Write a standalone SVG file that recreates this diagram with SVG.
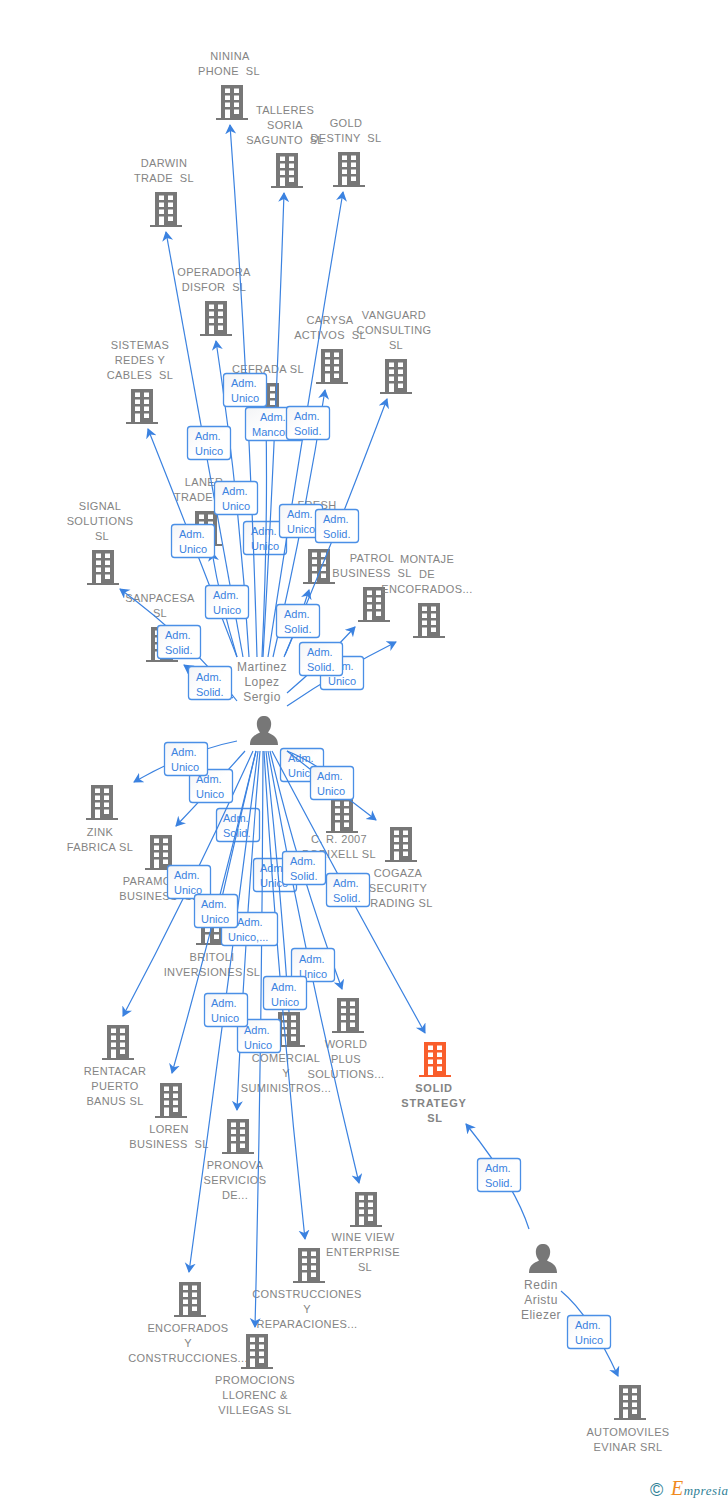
<svg xmlns="http://www.w3.org/2000/svg" width="728" height="1500" viewBox="0 0 728 1500">
<style>
.n{font:11px "Liberation Sans",Arial,sans-serif;fill:#848484;text-anchor:middle;white-space:pre;letter-spacing:.35px}
.p{font:12px "Liberation Sans",Arial,sans-serif;fill:#848484;text-anchor:middle;letter-spacing:.5px}
.b{font-weight:bold;letter-spacing:.8px}
.l{fill:none;stroke:#3b82e0;stroke-width:1.2}
.a{fill:url(#g);stroke:#4a8fe6;stroke-width:1.3}
.t{font:11px "Liberation Sans",Arial,sans-serif;fill:#3b82e0}
</style>
<defs>
<linearGradient id="g" x1="0" y1="0" x2="1" y2="1"><stop offset="0" stop-color="#f3f4f6"/><stop offset="0.5" stop-color="#fff"/></linearGradient>
<marker id="m" markerWidth="12" markerHeight="12" refX="9" refY="5.500" orient="auto" markerUnits="userSpaceOnUse"><path d="M0 0L10 5.500L0 11L3 5.500Z" fill="#3b82e0"/></marker>
<g id="bd"><path fill-rule="evenodd" d="M-11 0H11V33H16V35H-16V33H-11ZM-7 3.500V8H-2V3.500ZM2 3.500V8H7V3.500ZM-7 10.500V15H-2V10.500ZM2 10.500V15H7V10.500ZM-7 17.500V22H-2V17.500ZM2 17.500V22H7V17.500ZM-7 24.500V33H-2V24.500ZM2 24.500V29H7V24.500Z"/></g>
<g id="pr"><path d="M-14 29C-14 21 -9 19 -4 16.500C-7 13 -7.500 9 -7 6C-6 1 -3 0 0 0C3 0 6 1 7 6C7.500 9 7 13 4 16.500C9 19 14 21 14 29Z"/></g>
</defs>
<g id="nodes" fill="#777">
<g id="n1"><use href="#bd" x="232" y="85"/><text class="n" x="230" y="60">NININA</text><text class="n" x="229" y="75">PHONE  SL</text></g>
<g id="n2"><use href="#bd" x="287" y="153"/><text class="n" x="285" y="114">TALLERES</text><text class="n" x="285" y="129">SORIA</text><text class="n" x="285" y="144">SAGUNTO  SL</text></g>
<g id="n3"><use href="#bd" x="349" y="152"/><text class="n" x="346" y="127">GOLD</text><text class="n" x="346" y="142">DESTINY  SL</text></g>
<g id="n4"><use href="#bd" x="166" y="192"/><text class="n" x="164" y="167">DARWIN</text><text class="n" x="164" y="182">TRADE  SL</text></g>
<g id="n5"><use href="#bd" x="216" y="301"/><text class="n" x="214" y="276">OPERADORA</text><text class="n" x="214" y="291">DISFOR  SL</text></g>
<g id="n6"><use href="#bd" x="332" y="349"/><text class="n" x="330" y="324">CARYSA</text><text class="n" x="330" y="339">ACTIVOS  SL</text></g>
<g id="n7"><use href="#bd" x="396" y="359"/><text class="n" x="394" y="319">VANGUARD</text><text class="n" x="394" y="334">CONSULTING</text><text class="n" x="396" y="349">SL</text></g>
<g id="n8"><use href="#bd" x="268" y="383"/><text class="n" x="268" y="373">CEFRADA SL</text></g>
<g id="n9"><use href="#bd" x="142" y="389"/><text class="n" x="140" y="349">SISTEMAS</text><text class="n" x="140" y="364">REDES Y</text><text class="n" x="140" y="379">CABLES  SL</text></g>
<g id="n10"><use href="#bd" x="206" y="511"/><text class="n" x="204" y="486">LANER</text><text class="n" x="204" y="501">TRADE  SL</text></g>
<g id="n11"><use href="#bd" x="103" y="550"/><text class="n" x="100" y="510">SIGNAL</text><text class="n" x="100" y="525">SOLUTIONS</text><text class="n" x="102" y="540">SL</text></g>
<g id="n12"><use href="#bd" x="319" y="549"/><text class="n" x="317" y="509">FRESH</text></g>
<g id="n13"><use href="#bd" x="374" y="587"/><text class="n" x="372" y="562">PATROL</text><text class="n" x="372" y="577">BUSINESS  SL</text></g>
<g id="n14"><use href="#bd" x="429" y="603"/><text class="n" x="427" y="563">MONTAJE</text><text class="n" x="427" y="578">DE</text><text class="n" x="427" y="593">ENCOFRADOS...</text></g>
<g id="n15"><use href="#bd" x="162" y="627"/><text class="n" x="160" y="602">SANPACESA</text><text class="n" x="160" y="617">SL</text></g>
<g id="n16"><use href="#pr" x="264" y="716"/><text class="p" x="262" y="671">Martinez</text><text class="p" x="262" y="686">Lopez</text><text class="p" x="262" y="701">Sergio</text></g>
<g id="n17"><use href="#bd" x="102" y="785"/><text class="n" x="100" y="836">ZINK</text><text class="n" x="100" y="851">FABRICA SL</text></g>
<g id="n18"><use href="#bd" x="161" y="835"/><text class="n" x="159" y="885">PARAMOUNT</text><text class="n" x="159" y="900">BUSINESS  SL</text></g>
<g id="n19"><use href="#bd" x="342" y="798"/><text class="n" x="339" y="843">C. R. 2007</text><text class="n" x="339" y="858">PORIXELL SL</text></g>
<g id="n20"><use href="#bd" x="401" y="827"/><text class="n" x="398" y="877">COGAZA</text><text class="n" x="398" y="892">SECURITY</text><text class="n" x="398" y="907">TRADING SL</text></g>
<g id="n21"><use href="#bd" x="212" y="910"/><text class="n" x="212" y="961">BRITOLI</text><text class="n" x="212" y="976">INVERSIONES SL</text></g>
<g id="n22"><use href="#bd" x="118" y="1025"/><text class="n" x="115" y="1075">RENTACAR</text><text class="n" x="115" y="1090">PUERTO</text><text class="n" x="115" y="1105">BANUS SL</text></g>
<g id="n23"><use href="#bd" x="171" y="1083"/><text class="n" x="169" y="1133">LOREN</text><text class="n" x="169" y="1148">BUSINESS  SL</text></g>
<g id="n24"><use href="#bd" x="238" y="1119"/><text class="n" x="235" y="1169">PRONOVA</text><text class="n" x="235" y="1184">SERVICIOS</text><text class="n" x="235" y="1199">DE...</text></g>
<g id="n25"><use href="#bd" x="289" y="1012"/><text class="n" x="286" y="1062">COMERCIAL</text><text class="n" x="286" y="1077">Y</text><text class="n" x="286" y="1092">SUMINISTROS...</text></g>
<g id="n26"><use href="#bd" x="348" y="998"/><text class="n" x="346" y="1048">WORLD</text><text class="n" x="346" y="1063">PLUS</text><text class="n" x="346" y="1078">SOLUTIONS...</text></g>
<g id="n27" fill="#f95e2c"><use href="#bd" x="435" y="1042"/><text class="n b" x="434" y="1092">SOLID</text><text class="n b" x="434" y="1107">STRATEGY</text><text class="n b" x="435" y="1122">SL</text></g>
<g id="n28"><use href="#bd" x="366" y="1192"/><text class="n" x="363" y="1241">WINE VIEW</text><text class="n" x="363" y="1256">ENTERPRISE</text><text class="n" x="365" y="1271">SL</text></g>
<g id="n29"><use href="#bd" x="309" y="1248"/><text class="n" x="307" y="1298">CONSTRUCCIONES</text><text class="n" x="307" y="1313">Y</text><text class="n" x="307" y="1328">REPARACIONES...</text></g>
<g id="n30"><use href="#bd" x="190" y="1282"/><text class="n" x="188" y="1332">ENCOFRADOS</text><text class="n" x="188" y="1347">Y</text><text class="n" x="188" y="1362">CONSTRUCCIONES...</text></g>
<g id="n31"><use href="#bd" x="257" y="1334"/><text class="n" x="255" y="1384">PROMOCIONS</text><text class="n" x="255" y="1399">LLORENC &amp;</text><text class="n" x="255" y="1414">VILLEGAS SL</text></g>
<g id="n32"><use href="#pr" x="543" y="1244"/><text class="p" x="541" y="1289">Redin</text><text class="p" x="541" y="1304">Aristu</text><text class="p" x="541" y="1319">Eliezer</text></g>
<g id="n33"><use href="#bd" x="630" y="1385"/><text class="n" x="628" y="1436">AUTOMOVILES</text><text class="n" x="628" y="1451">EVINAR SRL</text></g>
</g>
<g id="connectors">
<g id="labels-under">
<rect class="a" x="243.500" y="521.500" width="43" height="33" rx="3"/><text class="t" x="251" y="535">Adm.</text><text class="t" x="251" y="550">Unico</text>
<rect class="a" x="280.500" y="748.500" width="43" height="33" rx="3"/><text class="t" x="288" y="762">Adm.</text><text class="t" x="288" y="777">Unico</text>
<rect class="a" x="216.500" y="808.500" width="43" height="33" rx="3"/><text class="t" x="223" y="822">Adm.</text><text class="t" x="223" y="837">Solid.</text>
<rect class="a" x="253.500" y="858.500" width="43" height="33" rx="3"/><text class="t" x="260" y="872">Adm.</text><text class="t" x="260" y="887">Unico</text>
</g>
<path class="l" marker-end="url(#m)" d="M237 657Q220 600 212 552"/>
<path class="l" marker-end="url(#m)" d="M237 657Q200 560 148 429"/>
<path class="l" marker-end="url(#m)" d="M243 657Q210 470 166 232"/>
<path class="l" marker-end="url(#m)" d="M249 657Q240 500 216 341"/>
<path class="l" marker-end="url(#m)" d="M257 657Q250 400 230 125"/>
<path class="l" d="M262 657Q268 530 266 420"/>
<path class="l" marker-end="url(#m)" d="M263 657Q276 430 284 193"/>
<path class="l" marker-end="url(#m)" d="M268 657Q300 450 343 192"/>
<path class="l" marker-end="url(#m)" d="M273 657Q305 520 325 390"/>
<path class="l" marker-end="url(#m)" d="M285 655Q330 550 387 399"/>
<path class="l" marker-end="url(#m)" d="M284 657Q298 625 309 590"/>
<path class="l" marker-end="url(#m)" d="M287 693Q320 665 355 627"/>
<path class="l" marker-end="url(#m)" d="M287 706Q340 670 396 642"/>
<path class="l" marker-end="url(#m)" d="M233 698Q205 680 184 665"/>
<path class="l" marker-end="url(#m)" d="M237 701Q190 640 120 589"/>
<path class="l" marker-end="url(#m)" d="M237 741Q190 750 134 782"/>
<path class="l" marker-end="url(#m)" d="M245 751Q215 785 176 826"/>
<path class="l" marker-end="url(#m)" d="M253 751Q190 890 123 1016"/>
<path class="l" marker-end="url(#m)" d="M256 751Q215 920 172 1073"/>
<path class="l" d="M256 751Q235 840 218 915"/>
<path class="l" marker-end="url(#m)" d="M258 751Q225 1010 189 1272"/>
<path class="l" marker-end="url(#m)" d="M260 751Q245 930 237 1110"/>
<path class="l" marker-end="url(#m)" d="M263 751Q262 1040 255 1327"/>
<path class="l" marker-end="url(#m)" d="M264 751Q278 990 305 1239"/>
<path class="l" d="M266 751Q280 880 289 1012"/>
<path class="l" marker-end="url(#m)" d="M268 751Q305 960 359 1183"/>
<path class="l" marker-end="url(#m)" d="M270 751Q295 860 342 989"/>
<path class="l" marker-end="url(#m)" d="M272 751Q340 880 425 1033"/>
<path class="l" d="M287 751Q305 758 325 772"/>
<path class="l" marker-end="url(#m)" d="M287 751Q330 785 376 820"/>
<path class="l" marker-end="url(#m)" d="M529 1229Q515 1185 466 1124"/>
<path class="l" marker-end="url(#m)" d="M561 1291Q590 1315 618 1376"/>
<g id="labels">
<rect class="a" x="223.500" y="373.500" width="43" height="33" rx="3"/><text class="t" x="231" y="387">Adm.</text><text class="t" x="231" y="402">Unico</text>
<rect class="a" x="245.500" y="407.500" width="58" height="33" rx="3"/><text class="t" x="260" y="421">Adm.</text><text class="t" x="252" y="436">Mancom.</text>
<rect class="a" x="286.500" y="406.500" width="43" height="33" rx="3"/><text class="t" x="294" y="420">Adm.</text><text class="t" x="294" y="435">Solid.</text>
<rect class="a" x="187.500" y="426.500" width="43" height="33" rx="3"/><text class="t" x="195" y="440">Adm.</text><text class="t" x="195" y="455">Unico</text>
<rect class="a" x="214.500" y="481.500" width="43" height="33" rx="3"/><text class="t" x="222" y="495">Adm.</text><text class="t" x="222" y="510">Unico</text>
<rect class="a" x="279.500" y="504.500" width="43" height="33" rx="3"/><text class="t" x="287" y="518">Adm.</text><text class="t" x="287" y="533">Unico</text>
<rect class="a" x="315.500" y="509.500" width="43" height="33" rx="3"/><text class="t" x="323" y="523">Adm.</text><text class="t" x="323" y="538">Solid.</text>
<rect class="a" x="171.500" y="524.500" width="43" height="33" rx="3"/><text class="t" x="179" y="538">Adm.</text><text class="t" x="179" y="553">Unico</text>
<rect class="a" x="205.500" y="585.500" width="43" height="33" rx="3"/><text class="t" x="213" y="599">Adm.</text><text class="t" x="213" y="614">Unico</text>
<rect class="a" x="276.500" y="604.500" width="43" height="33" rx="3"/><text class="t" x="284" y="618">Adm.</text><text class="t" x="284" y="633">Solid.</text>
<rect class="a" x="157.500" y="625.500" width="43" height="33" rx="3"/><text class="t" x="165" y="639">Adm.</text><text class="t" x="165" y="654">Solid.</text>
<rect class="a" x="188.500" y="666.500" width="43" height="33" rx="3"/><text class="t" x="196" y="681">Adm.</text><text class="t" x="196" y="696">Solid.</text>
<rect class="a" x="320.500" y="656.500" width="43" height="33" rx="3"/><text class="t" x="328" y="670">Adm.</text><text class="t" x="328" y="685">Unico</text>
<rect class="a" x="299.500" y="642.500" width="43" height="33" rx="3"/><text class="t" x="307" y="656">Adm.</text><text class="t" x="307" y="671">Solid.</text>
<rect class="a" x="189.500" y="769.500" width="43" height="33" rx="3"/><text class="t" x="196" y="783">Adm.</text><text class="t" x="196" y="798">Unico</text>
<rect class="a" x="164.500" y="742.500" width="43" height="33" rx="3"/><text class="t" x="171" y="756">Adm.</text><text class="t" x="171" y="771">Unico</text>
<rect class="a" x="310.500" y="766.500" width="43" height="33" rx="3"/><text class="t" x="317" y="780">Adm.</text><text class="t" x="317" y="795">Unico</text>
<rect class="a" x="282.500" y="851.500" width="43" height="33" rx="3"/><text class="t" x="290" y="865">Adm.</text><text class="t" x="290" y="880">Solid.</text>
<rect class="a" x="326.500" y="873.500" width="43" height="33" rx="3"/><text class="t" x="333" y="887">Adm.</text><text class="t" x="333" y="902">Solid.</text>
<rect class="a" x="167.500" y="865.500" width="43" height="33" rx="3"/><text class="t" x="174" y="879">Adm.</text><text class="t" x="174" y="894">Unico</text>
<rect class="a" x="221.500" y="912.500" width="56" height="33" rx="3"/><text class="t" x="237" y="926">Adm.</text><text class="t" x="228" y="941">Unico,...</text>
<rect class="a" x="194.500" y="894.500" width="43" height="33" rx="3"/><text class="t" x="201" y="908">Adm.</text><text class="t" x="201" y="923">Unico</text>
<rect class="a" x="291.500" y="948.500" width="43" height="33" rx="3"/><text class="t" x="299" y="963">Adm.</text><text class="t" x="299" y="978">Unico</text>
<rect class="a" x="263.500" y="976.500" width="43" height="33" rx="3"/><text class="t" x="271" y="991">Adm.</text><text class="t" x="271" y="1006">Unico</text>
<rect class="a" x="237.500" y="1019.500" width="43" height="33" rx="3"/><text class="t" x="244" y="1034">Adm.</text><text class="t" x="244" y="1049">Unico</text>
<rect class="a" x="204.500" y="993.500" width="43" height="33" rx="3"/><text class="t" x="211" y="1007">Adm.</text><text class="t" x="211" y="1022">Unico</text>
<rect class="a" x="477.500" y="1158.500" width="43" height="33" rx="3"/><text class="t" x="485" y="1172">Adm.</text><text class="t" x="485" y="1187">Solid.</text>
<rect class="a" x="567.500" y="1315.500" width="43" height="33" rx="3"/><text class="t" x="575" y="1329">Adm.</text><text class="t" x="575" y="1344">Unico</text>
</g>
</g>
<text x="650" y="1496" font-family="Liberation Sans,sans-serif" font-size="18" fill="#2f7f96">©</text>
<text x="671" y="1495" font-family="Liberation Serif,serif" font-style="italic" font-size="13" letter-spacing=".5" fill="#2f7f96"><tspan fill="#f08a1d" font-size="20">E</tspan>mpresia</text>
</svg>
